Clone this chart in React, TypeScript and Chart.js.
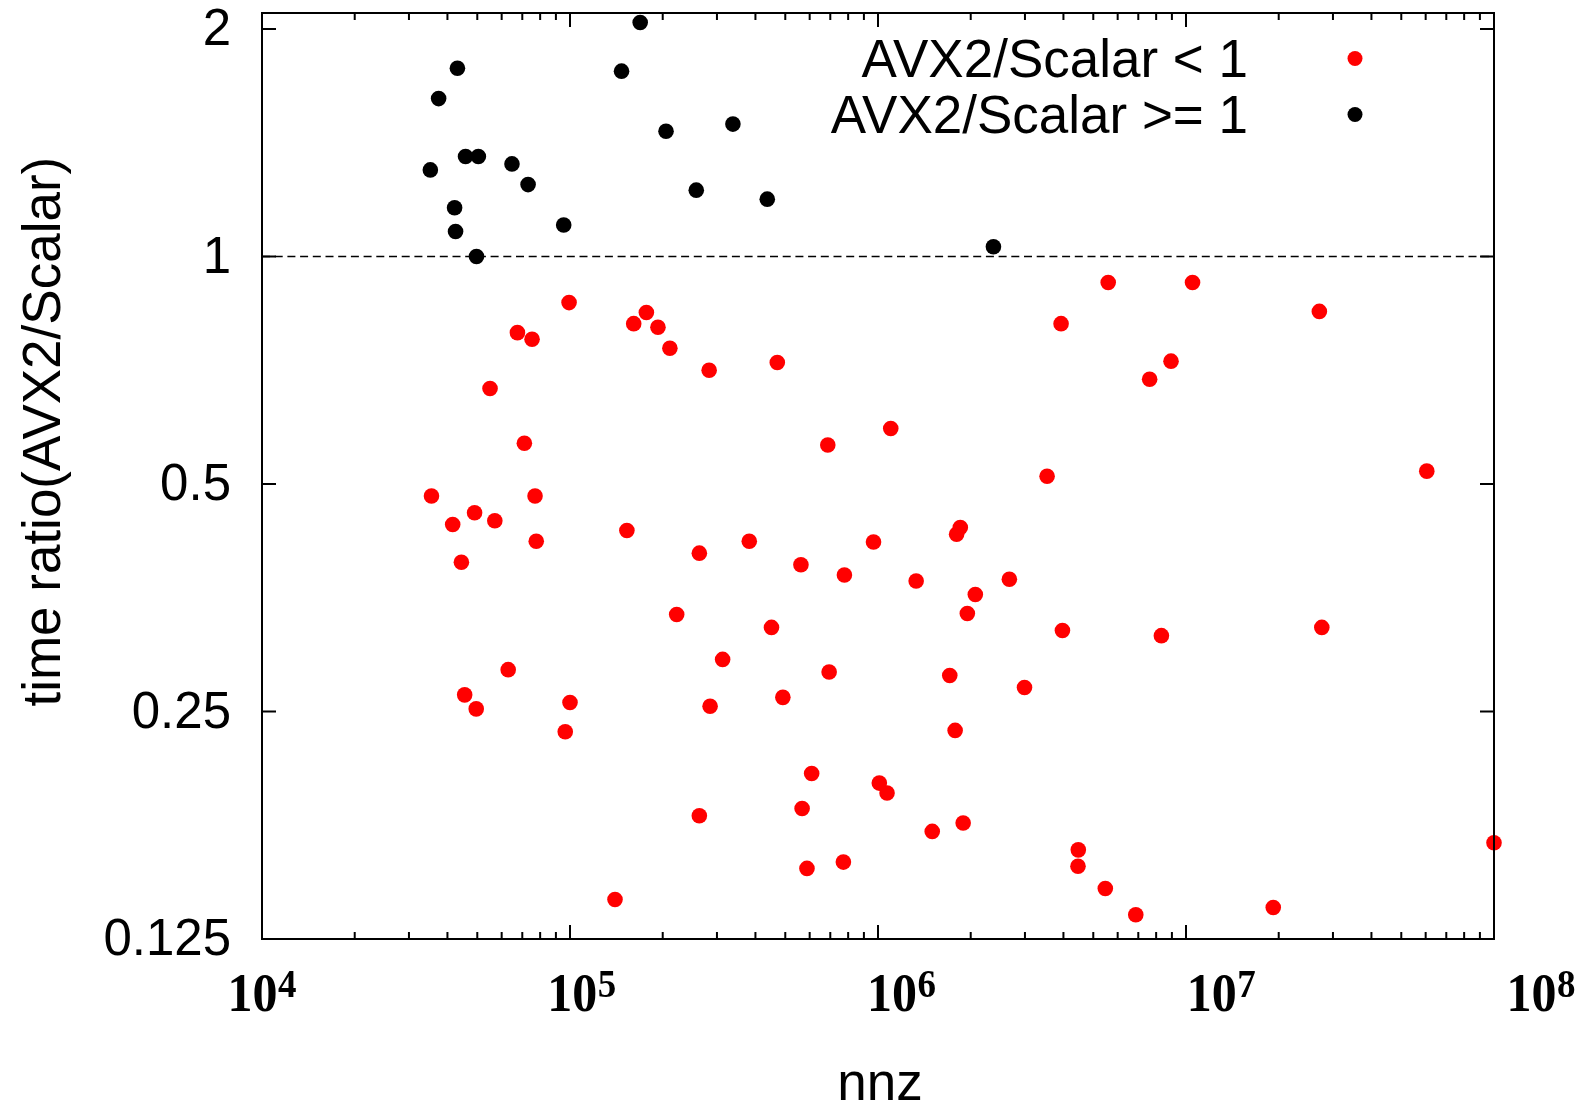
import React, { useEffect, useRef } from 'react';
import { Chart, registerables } from 'chart.js';

Chart.register(...registerables);

// ---- data ----
const seriesLabels = ['AVX2/Scalar < 1', 'AVX2/Scalar >= 1'];

const lowNnz = [
  9.93e4, 6.75e4, 7.53e4, 5.5e4, 7.11e4, 3.55e4, 7.7e4, 4.9e4, 4.16e4, 5.7e4,
  7.77e4, 4.44e4, 6.3e4, 4.55e4, 4.96e4, 1.0e5, 9.65e4,
  5.59e6, 1.77e5, 1.61e5, 1.93e5, 2.11e5, 2.83e5, 4.71e5, 3.93e6, 7.62e6,
  1.05e7, 2.71e7, 8.94e6,
  1.1e6, 6.87e5, 3.54e6, 1.53e5, 2.63e5, 3.82e5, 5.62e5, 7.78e5, 9.67e5, 1.85e6,
  1.8e6, 1.33e6, 2.07e6, 2.67e6, 2.22e5, 4.51e5, 1.95e6, 3.97e6, 8.32e6, 3.13e5,
  6.94e5, 1.71e6, 2.99e6, 2.85e5, 4.91e5, 1.78e6, 6.09e5, 1.01e6, 1.07e6,
  6.05e7, 2.76e7,
  1.4e5, 2.63e5, 5.67e5, 5.88e5, 7.72e5, 1.5e6, 1.89e6, 4.47e6, 4.46e6, 5.47e6,
  6.87e6, 1.92e7, 1.0e8,
];
const lowRatio = [
  0.869, 0.793, 0.777, 0.669, 0.566, 0.482, 0.482, 0.458, 0.442, 0.447,
  0.42, 0.394, 0.284, 0.263, 0.252, 0.257, 0.235,
  0.924, 0.843, 0.815, 0.806, 0.756, 0.707, 0.724, 0.815, 0.688,
  0.924, 0.846, 0.727,
  0.592, 0.563, 0.512, 0.434, 0.405, 0.42, 0.391, 0.379, 0.419, 0.438,
  0.429, 0.372, 0.357, 0.374, 0.336, 0.323, 0.337, 0.32, 0.315, 0.293,
  0.282, 0.279, 0.269, 0.254, 0.261, 0.236, 0.207, 0.201, 0.195,
  0.52, 0.323,
  0.141, 0.182, 0.186, 0.155, 0.158, 0.1735, 0.178, 0.164, 0.156, 0.1458,
  0.1346, 0.1376, 0.1676,
];

const highNnz = [
  3.52e4, 3.745e4, 4.31e4, 4.58e4, 5.04e4, 6.48e4, 7.31e4, 4.22e4, 4.25e4,
  4.97e4, 9.54e4, 1.69e5, 1.47e5, 2.05e5, 3.38e5, 2.57e5, 4.37e5, 2.37e6,
];
const highRatio = [
  1.302, 1.618, 1.775, 1.356, 1.356, 1.326, 1.245, 1.16, 1.079,
  1.0, 1.101, 2.04, 1.759, 1.465, 1.497, 1.224, 1.191, 1.03,
];

const refLineNnz = [1e4, 1e8];
const refLineRatio = [1, 1];

const xTickValues = [1e4, 1e5, 1e6, 1e7, 1e8];
const yTickValues = [0.125, 0.25, 0.5, 1, 2];
const xTitle = 'nnz';
const yTitle = 'time ratio(AVX2/Scalar)';

const RED = '#ff0000';
const BLACK = '#000000';
const SANS = '"Liberation Sans", Arial, sans-serif';
const SERIF = '"Liberation Serif", "Times New Roman", serif';

const gnuplotFrame = {
  id: 'gnuplotFrame',
  afterDraw(chart: any) {
    const { ctx, chartArea } = chart;
    const xs = chart.scales.x;
    const ys = chart.scales.y;
    const { left, right, top, bottom } = chartArea;
    ctx.save();
    ctx.strokeStyle = BLACK;
    ctx.fillStyle = BLACK;
    ctx.lineWidth = 2;
    ctx.setLineDash([]);
    // frame
    ctx.strokeRect(left, top, right - left, bottom - top);
    // y major ticks (left + right, inward)
    ctx.beginPath();
    yTickValues.forEach((v) => {
      const py = ys.getPixelForValue(v);
      ctx.moveTo(left, py);
      ctx.lineTo(left + 14, py);
      ctx.moveTo(right, py);
      ctx.lineTo(right - 14, py);
    });
    // x major + minor ticks (bottom + top, inward)
    xTickValues.forEach((v, i) => {
      const px = xs.getPixelForValue(v);
      ctx.moveTo(px, bottom);
      ctx.lineTo(px, bottom - 14);
      ctx.moveTo(px, top);
      ctx.lineTo(px, top + 14);
      if (i < xTickValues.length - 1) {
        for (let m = 2; m <= 9; m++) {
          const pm = xs.getPixelForValue(v * m);
          ctx.moveTo(pm, bottom);
          ctx.lineTo(pm, bottom - 7);
          ctx.moveTo(pm, top);
          ctx.lineTo(pm, top + 7);
        }
      }
    });
    ctx.stroke();

    // x tick labels: 10^n
    const cx = (left + right) / 2;
    xTickValues.forEach((v) => {
      const px = xs.getPixelForValue(v);
      const lx = cx + 1.038 * (px - cx) - 11;
      ctx.save();
      ctx.translate(lx, bottom + 72);
      ctx.scale(1, 1.1);
      ctx.textAlign = 'left';
      ctx.textBaseline = 'alphabetic';
      ctx.font = 'bold 50px ' + SERIF;
      ctx.fillText('10', 0, 0);
      const w = ctx.measureText('10').width;
      ctx.font = 'bold 37px ' + SERIF;
      ctx.fillText(String(Math.round(Math.log10(v))), w + 0.5, -13);
      ctx.restore();
    });

    // axis titles
    ctx.font = '53px ' + SANS;
    ctx.textAlign = 'center';
    ctx.textBaseline = 'alphabetic';
    ctx.fillText(xTitle, cx + 2, bottom + 161);
    ctx.save();
    ctx.translate(60, (top + bottom) / 2 - 44.3);
    ctx.rotate(-Math.PI / 2);
    ctx.fillText(yTitle, 0, 0);
    ctx.restore();

    // legend (text right-aligned, marker at right)
    const ds = chart.data.datasets;
    [0, 1].forEach((i) => {
      const baseY = top + 63.5 + i * 56;
      ctx.textAlign = 'right';
      ctx.fillStyle = BLACK;
      ctx.font = '53px ' + SANS;
      ctx.fillText(ds[i].label, right - 246, baseY);
      ctx.beginPath();
      ctx.fillStyle = ds[i].pointBackgroundColor;
      ctx.arc(right - 139, baseY - 18, 7.5, 0, Math.PI * 2);
      ctx.fill();
    });
    ctx.restore();
  },
};

export default function App() {
  const ref = useRef<HTMLCanvasElement>(null);

  useEffect(() => {
    const canvas = ref.current;
    if (!canvas) return;
    const lowPts = lowNnz.map((x, i) => ({ x, y: lowRatio[i] }));
    const highPts = highNnz.map((x, i) => ({ x, y: highRatio[i] }));
    const linePts = refLineNnz.map((x, i) => ({ x, y: refLineRatio[i] }));

    const chart = new Chart(canvas, {
      type: 'scatter',
      data: {
        datasets: [
          {
            label: seriesLabels[0],
            data: lowPts,
            pointBackgroundColor: RED,
            pointBorderColor: RED,
            pointBorderWidth: 0,
            pointRadius: 7.8,
            clip: false,
            order: 0,
          },
          {
            label: seriesLabels[1],
            data: highPts,
            pointBackgroundColor: BLACK,
            pointBorderColor: BLACK,
            pointBorderWidth: 0,
            pointRadius: 7.8,
            clip: false,
            order: 1,
          },
          {
            label: 'ratio = 1',
            data: linePts,
            showLine: true,
            borderColor: BLACK,
            borderWidth: 1.7,
            borderDash: [8, 4.7],
            pointRadius: 0,
            fill: false,
            order: 2,
          },
        ],
      } as any,
      options: {
        responsive: false,
        animation: false,
        events: [],
        layout: { padding: { left: 0, top: 13, right: 89, bottom: 0 } },
        plugins: {
          legend: { display: false },
          tooltip: { enabled: false },
          title: { display: false },
        },
        scales: {
          x: {
            type: 'logarithmic',
            min: 1e4,
            max: 1e8,
            grid: { display: false, drawTicks: false },
            border: { display: false },
            ticks: { display: false },
            afterFit: (s: any) => {
              s.height = 167;
              s.paddingLeft = 0;
              s.paddingRight = 0;
            },
          },
          y: {
            type: 'logarithmic',
            min: 0.125,
            max: 2.1,
            grid: { display: false, drawTicks: false },
            border: { display: false },
            afterBuildTicks: (s: any) => {
              s.ticks = yTickValues.map((value) => ({ value }));
            },
            ticks: {
              color: BLACK,
              padding: 31,
              labelOffset: 2,
              font: { family: SANS, size: 51 },
              callback: (v: any) => String(v),
            },
            afterFit: (s: any) => {
              s.width = 262;
              s.paddingTop = 0;
              s.paddingBottom = 0;
            },
          },
        },
      } as any,
      plugins: [gnuplotFrame],
    });
    return () => chart.destroy();
  }, []);

  return (
    <canvas
      ref={ref}
      width={1583}
      height={1106}
      style={{ position: 'absolute', left: 0, top: 0, display: 'block', width: 1583, height: 1106 }}
    />
  );
}
